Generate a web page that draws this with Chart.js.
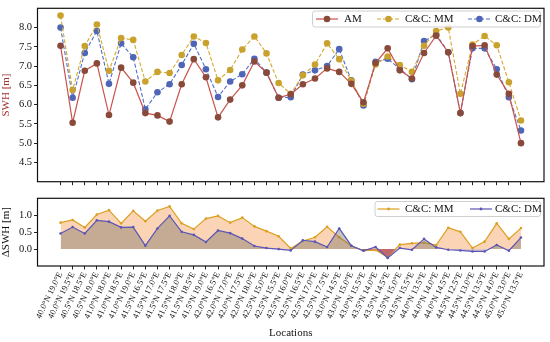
<!DOCTYPE html>
<html>
<head>
<meta charset="utf-8">
<script src="https://cdn.jsdelivr.net/npm/chart.js@4.4.1/dist/chart.umd.min.js"></script>
<style>
  html, body { margin: 0; padding: 0; background: #fff; }
  #wrap { position: relative; width: 550px; height: 342px; overflow: hidden; }
  #top { position: absolute; left: 0; top: 0; }
  #bottom { position: absolute; left: 0; top: 190px; }
</style>
</head>
<body>
<div id="wrap">
  <canvas id="top" width="550" height="190"></canvas>
  <canvas id="bottom" width="550" height="152"></canvas>
</div>
<script>
const locations = [
  '40.0°N 19.0°E', '40.0°N 19.5°E', '40.5°N 18.5°E', '40.5°N 19.0°E', '41.0°N 18.0°E',
  '41.0°N 18.5°E', '41.0°N 19.0°E', '41.5°N 16.5°E', '41.5°N 17.0°E', '41.5°N 17.5°E',
  '41.5°N 18.0°E', '41.5°N 18.5°E', '41.5°N 19.0°E', '42.0°N 16.5°E', '42.0°N 17.0°E',
  '42.0°N 17.5°E', '42.0°N 18.0°E', '42.5°N 15.0°E', '42.5°N 15.5°E', '42.5°N 16.0°E',
  '42.5°N 16.5°E', '42.5°N 17.0°E', '42.5°N 17.5°E', '43.0°N 14.5°E', '43.0°N 15.0°E',
  '43.0°N 15.5°E', '43.5°N 14.0°E', '43.5°N 14.5°E', '43.5°N 15.0°E', '43.5°N 15.5°E',
  '44.0°N 13.5°E', '44.0°N 14.0°E', '44.0°N 14.5°E', '44.5°N 12.5°E', '44.5°N 13.0°E',
  '44.5°N 13.5°E', '44.5°N 14.0°E', '45.0°N 13.0°E', '45.0°N 13.5°E'
];

// SWH [m]
const swhAM = [7.53, 5.53, 6.88, 7.07, 5.73, 6.96, 6.57, 5.78, 5.72, 5.56, 6.53, 7.18, 6.71, 5.67, 6.13, 6.50, 7.12, 6.83, 6.18, 6.27,
  6.53, 6.68, 6.94, 6.85, 6.54, 6.06, 7.08, 7.46, 6.89, 6.68, 7.34, 7.79, 7.36, 5.78, 7.52, 7.54, 6.78, 6.28, 5.00];
const swhMM = [8.31, 6.38, 7.52, 8.08, 6.88, 7.73, 7.68, 6.60, 6.85, 6.82, 7.29, 7.77, 7.60, 6.63, 6.90, 7.43, 7.77, 7.33, 6.56, 6.28,
  6.76, 7.04, 7.59, 7.18, 6.62, 6.02, 7.04, 7.25, 7.03, 6.85, 7.53, 7.91, 8.00, 6.28, 7.56, 7.78, 7.54, 6.58, 5.59];
const swhDM = [8.00, 6.18, 7.34, 7.91, 6.54, 7.59, 7.23, 5.88, 6.32, 6.53, 7.03, 7.58, 6.92, 6.20, 6.60, 6.79, 7.19, 6.83, 6.18, 6.19,
  6.78, 6.89, 7.00, 7.44, 6.63, 5.98, 7.11, 7.19, 6.93, 6.66, 7.65, 7.82, 7.36, 5.78, 7.46, 7.46, 6.92, 6.19, 5.33];

// ΔSWH [m]
const deltaMM = [0.78, 0.86, 0.64, 1.02, 1.15, 0.76, 1.13, 0.82, 1.14, 1.26, 0.76, 0.59, 0.90, 0.98, 0.78, 0.93, 0.67, 0.53, 0.38, 0.02,
  0.24, 0.35, 0.66, 0.35, 0.10, -0.05, -0.03, -0.24, 0.13, 0.17, 0.19, 0.12, 0.63, 0.51, 0.03, 0.22, 0.76, 0.30, 0.62];
const deltaDM = [0.46, 0.65, 0.46, 0.85, 0.81, 0.64, 0.65, 0.10, 0.61, 0.98, 0.51, 0.42, 0.21, 0.55, 0.47, 0.31, 0.09, 0.03, 0.00, -0.04,
  0.26, 0.22, 0.06, 0.61, 0.10, -0.05, 0.06, -0.26, 0.03, -0.02, 0.30, 0.05, -0.02, -0.04, -0.07, -0.07, 0.12, -0.05, 0.34];

const swhTicks = [4.5, 5.0, 5.5, 6.0, 6.5, 7.0, 7.5, 8.0];
const deltaTicks = [0.0, 0.5, 1.0];

const FONT = "'Liberation Serif', 'DejaVu Serif', serif";
const COL_AM = '#c9524c', COL_AM_PT = '#8a4a3a';
const COL_MM = '#d6a82c', COL_MM_PT = '#c9a22e';
const COL_DM = '#4d6fca', COL_DM_PT = '#4f66b6';
const COL_MM2 = '#dba021', COL_DM2 = '#5b56b5';

function xy(arr) {
  return arr.map((v, i) => ({ x: i, y: v }));
}

// black frame all round the plot area
const framePlugin = {
  id: 'frame',
  afterDraw(chart) {
    const { ctx, chartArea: a } = chart;
    ctx.save();
    ctx.strokeStyle = '#111';
    ctx.lineWidth = 1.2;
    ctx.strokeRect(a.left, a.top, a.right - a.left, a.bottom - a.top);
    ctx.restore();
  }
};

// matplotlib style legend inside the axes
const boxLegend = {
  id: 'boxLegend',
  afterDraw(chart, args, opts) {
    if (!opts || !opts.items) return;
    const ctx = chart.ctx;
    const b = opts.box;
    ctx.save();
    ctx.fillStyle = 'rgba(255,255,255,0.85)';
    ctx.strokeStyle = '#cfcfcf';
    ctx.lineWidth = 1;
    ctx.beginPath();
    ctx.roundRect(b.x, b.y, b.w, b.h, 2.5);
    ctx.fill();
    ctx.stroke();
    const cy = b.y + b.h / 2;
    opts.items.forEach(it => {
      ctx.strokeStyle = it.color;
      ctx.lineWidth = 1.2;
      ctx.setLineDash(it.dash || []);
      ctx.beginPath();
      ctx.moveTo(it.x0, cy);
      ctx.lineTo(it.x1, cy);
      ctx.stroke();
      ctx.setLineDash([]);
      ctx.fillStyle = it.pt;
      ctx.beginPath();
      ctx.arc((it.x0 + it.x1) / 2, cy, it.r, 0, Math.PI * 2);
      ctx.fill();
      ctx.fillStyle = '#111';
      ctx.font = '11px ' + FONT;
      ctx.textBaseline = 'middle';
      ctx.fillText(it.label, it.tx, cy + 0.5);
    });
    ctx.restore();
  }
};

function xScale(showLabels) {
  return {
    type: 'linear',
    min: -1.9,
    max: 39.9,
    afterBuildTicks: s => { s.ticks = locations.map((_, i) => ({ value: i })); },
    afterFit: s => { s.height = showLabels ? 76 : 6; },
    grid: { drawOnChartArea: false, drawTicks: true, tickLength: 3.5, tickColor: '#222' },
    border: { display: false },
    ticks: {
      autoSkip: false,
      minRotation: 64,
      maxRotation: 64,
      padding: 1,
      color: '#111',
      font: { family: FONT, size: 8.6 },
      callback: v => showLabels ? locations[v] : ''
    },
    title: {
      display: showLabels,
      text: 'Locations',
      color: '#111',
      font: { family: FONT, size: 11 },
      padding: { top: 0, bottom: 2 }
    }
  };
}

function yScale(min, max, ticks, title, titleColor) {
  return {
    min: min,
    max: max,
    afterBuildTicks: s => { s.ticks = ticks.map(v => ({ value: v })); },
    afterFit: s => { s.width = 37.5; },
    grid: { drawOnChartArea: false, drawTicks: true, tickLength: 3.5, tickColor: '#222' },
    border: { display: false },
    ticks: {
      padding: 2,
      color: '#111',
      font: { family: FONT, size: 10.5 },
      callback: v => v.toFixed(1)
    },
    title: {
      display: true,
      text: title,
      color: titleColor,
      font: { family: FONT, size: 11 },
      padding: { top: 0, bottom: 2 }
    }
  };
}

new Chart(document.getElementById('top').getContext('2d'), {
  type: 'line',
  data: {
    datasets: [
      {
        label: 'AM', data: xy(swhAM), borderColor: COL_AM, borderWidth: 1.2,
        pointBackgroundColor: COL_AM_PT, pointBorderColor: COL_AM_PT, pointRadius: 3.3, pointBorderWidth: 0
      },
      {
        label: 'C&C: MM', data: xy(swhMM), borderColor: COL_MM, borderWidth: 1.1, borderDash: [4, 2],
        pointBackgroundColor: COL_MM_PT, pointBorderColor: COL_MM_PT, pointRadius: 3.3, pointBorderWidth: 0
      },
      {
        label: 'C&C: DM', data: xy(swhDM), borderColor: COL_DM, borderWidth: 1.1, borderDash: [4, 2],
        pointBackgroundColor: COL_DM_PT, pointBorderColor: COL_DM_PT, pointRadius: 3.3, pointBorderWidth: 0
      }
    ]
  },
  options: {
    responsive: false,
    animation: false,
    layout: { padding: { top: 5, right: 6, left: 0, bottom: 0 } },
    plugins: {
      legend: { display: false },
      tooltip: { enabled: false },
      boxLegend: {
        box: { x: 312.5, y: 11, w: 228, h: 16 },
        items: [
          { label: 'AM', color: COL_AM, pt: COL_AM_PT, x0: 316, x1: 338, tx: 344, r: 3.3 },
          { label: 'C&C: MM', color: COL_MM, pt: COL_MM_PT, x0: 377, x1: 400, tx: 405, r: 3.3, dash: [4, 2] },
          { label: 'C&C: DM', color: COL_DM, pt: COL_DM_PT, x0: 468, x1: 491, tx: 495, r: 3.3, dash: [4, 2] }
        ]
      }
    },
    scales: {
      x: xScale(false),
      y: yScale(4.0, 8.5, swhTicks, 'SWH [m]', '#a83232')
    }
  },
  plugins: [framePlugin, boxLegend]
});

new Chart(document.getElementById('bottom').getContext('2d'), {
  type: 'line',
  data: {
    datasets: [
      {
        label: 'C&C: MM', data: xy(deltaMM), borderColor: COL_MM2, borderWidth: 1.2,
        pointBackgroundColor: COL_MM2, pointBorderWidth: 0, pointRadius: 1.3, order: 2,
        fill: { target: { value: 0 }, above: 'rgba(246,160,90,0.45)', below: 'rgba(205,60,60,0.75)' }
      },
      {
        label: 'C&C: DM', data: xy(deltaDM), borderColor: COL_DM2, borderWidth: 1.2,
        pointBackgroundColor: COL_DM2, pointBorderWidth: 0, pointRadius: 1.3, order: 1,
        fill: { target: { value: 0 }, above: 'rgba(118,108,100,0.4)', below: 'rgba(150,90,110,0.35)' }
      }
    ]
  },
  options: {
    responsive: false,
    animation: false,
    layout: { padding: { top: 7, right: 6, left: 0, bottom: 0 } },
    plugins: {
      legend: { display: false },
      tooltip: { enabled: false },
      boxLegend: {
        box: { x: 375, y: 11.5, w: 165.5, h: 15 },
        items: [
          { label: 'C&C: MM', color: COL_MM2, pt: COL_MM2, x0: 377.5, x1: 399.5, tx: 405, r: 1.4 },
          { label: 'C&C: DM', color: COL_DM2, pt: COL_DM2, x0: 470, x1: 492, tx: 495, r: 1.4 }
        ]
      }
    },
    scales: {
      x: xScale(true),
      y: yScale(-0.5, 1.5, deltaTicks, 'ΔSWH [m]', '#111')
    }
  },
  plugins: [framePlugin, boxLegend]
});
</script>
</body>
</html>
